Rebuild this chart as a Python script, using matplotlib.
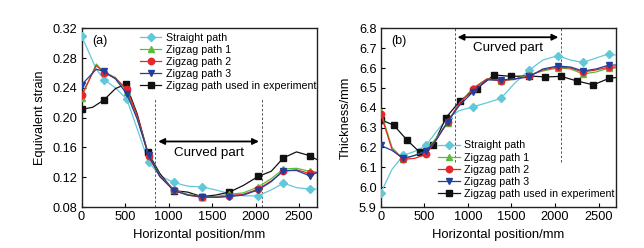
import matplotlib
matplotlib.use("Agg")
import matplotlib.pyplot as plt

plt.rcParams['font.family'] = ['Liberation Sans', 'DejaVu Sans']

# ---------------- data: panel (a) equivalent strain ----------------
xa = [0, 170, 260, 390, 520, 640, 770, 900, 1060, 1220, 1380, 1540, 1700, 1860, 2030, 2180, 2320, 2470, 2620, 2700]
a_straight = [0.310, 0.265, 0.251, 0.240, 0.225, 0.185, 0.141, 0.122, 0.113, 0.108, 0.107, 0.103, 0.098, 0.095, 0.095, 0.103, 0.112, 0.106, 0.104, 0.104]
a_zz1 = [0.227, 0.272, 0.261, 0.254, 0.235, 0.200, 0.150, 0.122, 0.103, 0.097, 0.094, 0.094, 0.097, 0.099, 0.107, 0.118, 0.131, 0.132, 0.128, 0.127]
a_zz2 = [0.230, 0.270, 0.260, 0.253, 0.238, 0.203, 0.148, 0.121, 0.103, 0.096, 0.093, 0.093, 0.095, 0.097, 0.104, 0.115, 0.128, 0.130, 0.125, 0.126]
a_zz3 = [0.244, 0.265, 0.262, 0.252, 0.232, 0.198, 0.150, 0.121, 0.102, 0.096, 0.094, 0.093, 0.094, 0.096, 0.103, 0.114, 0.129, 0.129, 0.122, 0.126]
xa_exp = [0, 130, 260, 390, 510, 640, 760, 900, 1060, 1220, 1380, 1540, 1700, 1860, 2030, 2180, 2320, 2470, 2620, 2700]
a_exp = [0.211, 0.214, 0.224, 0.239, 0.245, 0.205, 0.154, 0.125, 0.102, 0.100, 0.094, 0.096, 0.100, 0.109, 0.121, 0.128, 0.146, 0.154, 0.149, 0.144]

# ---------------- data: panel (b) thickness ----------------
xb = [0, 130, 260, 390, 520, 640, 770, 900, 1060, 1220, 1380, 1540, 1700, 1860, 2030, 2180, 2320, 2470, 2620, 2700]
b_straight = [5.97, 6.09, 6.160, 6.180, 6.210, 6.280, 6.350, 6.385, 6.405, 6.425, 6.447, 6.525, 6.588, 6.640, 6.662, 6.640, 6.628, 6.650, 6.672, 6.665]
b_zz1 = [6.38, 6.20, 6.140, 6.160, 6.180, 6.250, 6.325, 6.420, 6.500, 6.545, 6.535, 6.545, 6.565, 6.585, 6.600, 6.595, 6.570, 6.580, 6.600, 6.600]
b_zz2 = [6.37, 6.19, 6.140, 6.145, 6.165, 6.240, 6.330, 6.420, 6.495, 6.545, 6.535, 6.545, 6.560, 6.590, 6.605, 6.600, 6.580, 6.590, 6.605, 6.605]
b_zz3 = [6.21, 6.185, 6.145, 6.160, 6.180, 6.240, 6.330, 6.410, 6.480, 6.540, 6.540, 6.545, 6.555, 6.595, 6.610, 6.605, 6.585, 6.595, 6.615, 6.615]
xb_exp = [0, 150, 300, 450, 600, 750, 910, 1100, 1300, 1500, 1700, 1890, 2070, 2250, 2440, 2620, 2700]
b_exp = [6.340, 6.312, 6.238, 6.175, 6.210, 6.350, 6.435, 6.495, 6.565, 6.558, 6.560, 6.555, 6.558, 6.535, 6.515, 6.548, 6.552]

labels = ["Straight path", "Zigzag path 1", "Zigzag path 2", "Zigzag path 3", "Zigzag path used in experiment"]
colors = ["#62c8d8", "#5cbb3a", "#e8252a", "#233f9c", "#111111"]
markers = ["D", "^", "o", "v", "s"]
msizes = [4.2, 5.0, 4.6, 5.0, 4.2]

mk_a = [0, 2, 4, 6, 8, 10, 12, 14, 16, 18]
mk_b_exp = list(range(16))

fig = plt.figure(figsize=(6.44, 2.48), dpi=100)
W, H = 644, 248
axA = fig.add_axes([81.5 / W, 1 - 207 / H, (316.5 - 81.5) / W, (207 - 28.3) / H])
axB = fig.add_axes([380.7 / W, 1 - 207 / H, (616 - 380.7) / W, (207 - 28.3) / H])

series_a = [(xa, a_straight), (xa, a_zz1), (xa, a_zz2), (xa, a_zz3), (xa_exp, a_exp)]
series_b = [(xb, b_straight), (xb, b_zz1), (xb, b_zz2), (xb, b_zz3), (xb_exp, b_exp)]

for ax, series, mkl in [(axA, series_a, [mk_a] * 5), (axB, series_b, [mk_a] * 4 + [mk_b_exp])]:
    for i, (xs, ys) in enumerate(series):
        ax.plot(xs, ys, color=colors[i], lw=0.9, marker=markers[i], ms=msizes[i],
                markevery=mkl[i], label=labels[i], zorder=3 + (0 if i == 4 else i))

for ax in (axA, axB):
    ax.set_xlim(0, 2700)
    ax.set_xticks([0, 500, 1000, 1500, 2000, 2500])
    ax.tick_params(direction='in', length=3, width=0.8, labelsize=9.2, pad=3)
    ax.set_xlabel("Horizontal position/mm", fontsize=9.4, labelpad=4)
    for s in ax.spines.values():
        s.set_linewidth(1.0)
        s.set_color("#222222")

# panel (a)
axA.set_ylim(0.08, 0.32)
axA.set_yticks([0.08, 0.12, 0.16, 0.20, 0.24, 0.28, 0.32])
axA.set_yticklabels(["0.08", "0.12", "0.16", "0.20", "0.24", "0.28", "0.32"])
axA.set_ylabel("Equivalent strain", fontsize=9.2, labelpad=5)
for xv in (850, 2070):
    axA.plot([xv, xv], [0.08, 0.225], ls=(0, (2.5, 2)), color="#555555", lw=0.7, zorder=2)
axA.annotate("", xy=(850, 0.168), xytext=(2070, 0.168),
             arrowprops=dict(arrowstyle="<|-|>", color="black", lw=1.3, mutation_scale=9))
axA.text(1460, 0.152, "Curved part", ha="center", va="center", fontsize=9.6)
axA.text(0.045, 0.965, "(a)", transform=axA.transAxes, ha="left", va="top", fontsize=9)
axA.legend(loc="upper left", bbox_to_anchor=(0.228, 1.0), frameon=False, fontsize=7.7,
           handlelength=2.0, handletextpad=0.4, labelspacing=0.19, borderpad=0.3, borderaxespad=0.15)

# panel (b)
axB.set_ylim(5.9, 6.8)
axB.set_yticks([5.9, 6.0, 6.1, 6.2, 6.3, 6.4, 6.5, 6.6, 6.7, 6.8])
axB.set_ylabel("Thickness/mm", fontsize=9.2, labelpad=5)
for xv in (850, 2070):
    axB.plot([xv, xv], [6.128, 6.8], ls=(0, (2.5, 2)), color="#555555", lw=0.7, zorder=2)
axB.annotate("", xy=(850, 6.755), xytext=(2070, 6.755),
             arrowprops=dict(arrowstyle="<|-|>", color="black", lw=1.3, mutation_scale=9))
axB.text(1460, 6.703, "Curved part", ha="center", va="center", fontsize=9.6)
axB.text(0.045, 0.965, "(b)", transform=axB.transAxes, ha="left", va="top", fontsize=9)
axB.legend(loc="lower left", bbox_to_anchor=(0.225, 0.02), frameon=False, fontsize=7.7,
           handlelength=2.0, handletextpad=0.4, labelspacing=0.19, borderpad=0.3, borderaxespad=0.15)

fig.savefig("out.png", dpi=100)
